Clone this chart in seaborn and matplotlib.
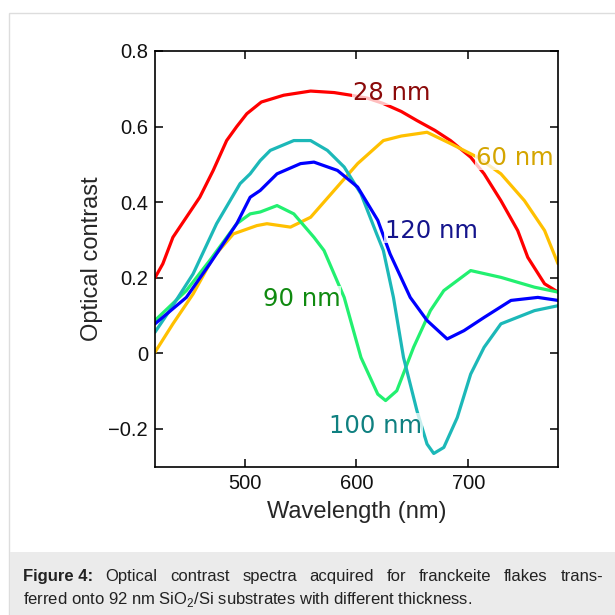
import numpy as np
import pandas as pd
import matplotlib
matplotlib.use("Agg")
import matplotlib.pyplot as plt
import seaborn as sns
from matplotlib.patches import Rectangle

# spectra (wavelength in nm, optical contrast)
wl_28 = [420, 427, 436, 448, 460, 472, 484, 493, 502, 515, 535, 559, 580, 595, 610, 624,
         640, 654, 670, 684, 702, 714, 729, 744, 753, 768, 780]
oc_28 = [0.200, 0.237, 0.307, 0.360, 0.413, 0.484, 0.563, 0.600, 0.634, 0.665, 0.683, 0.694,
         0.690, 0.683, 0.675, 0.661, 0.640, 0.616, 0.590, 0.563, 0.519, 0.475, 0.404, 0.325,
         0.254, 0.184, 0.162]

wl_60 = [420, 436, 454, 472, 490, 511, 520, 541, 559, 580, 601, 624, 640, 654, 663, 684,
         708, 729, 750, 768, 780]
oc_60 = [0.003, 0.078, 0.157, 0.254, 0.316, 0.338, 0.343, 0.334, 0.360, 0.431, 0.502, 0.563,
         0.575, 0.581, 0.585, 0.555, 0.519, 0.475, 0.404, 0.325, 0.237]

wl_90 = [420, 448, 469, 493, 505, 514, 529, 544, 562, 571, 589, 604, 619, 626, 636, 651,
         666, 678, 702, 729, 759, 780]
oc_90 = [0.087, 0.166, 0.246, 0.343, 0.369, 0.374, 0.391, 0.369, 0.307, 0.272, 0.148, -0.011,
         -0.108, -0.125, -0.099, 0.016, 0.113, 0.166, 0.219, 0.201, 0.175, 0.162]

wl_100 = [420, 433, 454, 475, 496, 505, 514, 523, 544, 559, 574, 589, 604, 618, 624, 633,
          642, 654, 663, 669, 678, 690, 702, 714, 729, 759, 780]
oc_100 = [0.056, 0.113, 0.210, 0.343, 0.449, 0.475, 0.510, 0.537, 0.563, 0.563, 0.537, 0.493,
          0.422, 0.316, 0.272, 0.148, -0.011, -0.152, -0.240, -0.265, -0.249, -0.170, -0.055,
          0.016, 0.078, 0.113, 0.126]

wl_120 = [420, 448, 469, 493, 505, 514, 529, 550, 562, 583, 601, 619, 630, 648, 663, 681,
          696, 714, 738, 762, 780]
oc_120 = [0.078, 0.148, 0.237, 0.343, 0.413, 0.431, 0.475, 0.502, 0.506, 0.484, 0.440, 0.352,
          0.263, 0.148, 0.087, 0.038, 0.060, 0.095, 0.140, 0.148, 0.140]

thickness = ["28 nm", "60 nm", "90 nm", "100 nm", "120 nm"]
line_colors = ["#ff0000", "#ffc000", "#22f070", "#1cb8b8", "#0000ff"]
text_colors = ["#8b0a0a", "#d4a500", "#108a10", "#0f8080", "#14148c"]
label_x = [631, 741, 551, 617, 667]
label_y = [0.690, 0.518, 0.145, -0.192, 0.325]

series = [(wl_28, oc_28), (wl_60, oc_60), (wl_90, oc_90), (wl_100, oc_100), (wl_120, oc_120)]
df = pd.concat([pd.DataFrame({"wavelength": w, "contrast": c, "flake": t})
                for (w, c), t in zip(series, thickness)], ignore_index=True)

sns.set_style("ticks")
plt.rcParams["font.family"] = ["Liberation Sans", "DejaVu Sans"]
plt.rcParams["mathtext.fontset"] = "custom"
plt.rcParams["mathtext.rm"] = "Liberation Sans"

fig = plt.figure(figsize=(6.15, 6.15), dpi=100)
fig.patches.append(Rectangle((9 / 615, -0.01), 1.0, 1 - 13 / 615 + 0.01, transform=fig.transFigure,
                             facecolor="white", edgecolor="#dddddd", lw=1.0, zorder=0))
fig.patches.append(Rectangle((9 / 615 + 0.001, 0), 1.0, 63 / 615, transform=fig.transFigure,
                             facecolor="#ebebeb", edgecolor="none", zorder=1))

ax = fig.add_axes([155 / 615, 1 - 466.7 / 615, 403 / 615, 415.7 / 615])
ax.set_zorder(3)
sns.lineplot(data=df, x="wavelength", y="contrast", hue="flake", hue_order=thickness,
             palette=line_colors, estimator=None, sort=True, lw=2.3, legend=False, ax=ax)

for t, c, x, y in zip(thickness, text_colors, label_x, label_y):
    ax.text(x, y, t, color=c, fontsize=17.5, family="DejaVu Sans", ha="center", va="center",
            bbox=dict(facecolor="white", alpha=0.75, edgecolor="none", pad=0.5))

ax.set_xlim(420, 780)
ax.set_ylim(-0.3, 0.8)
ax.set_xticks([500, 600, 700])
ax.set_yticks([-0.2, 0, 0.2, 0.4, 0.6, 0.8])
ax.set_yticklabels(["\u22120.2", "0", "0.2", "0.4", "0.6", "0.8"])
ax.tick_params(direction="in", length=6, width=1.1, top=True, right=True,
               labelsize=14.5, pad=5, color="black", labelcolor="#111111")
for s in ax.spines.values():
    s.set_linewidth(1.2)
    s.set_color("black")
ax.set_xlabel("Wavelength (nm)", fontsize=17, labelpad=6)
ax.set_ylabel("Optical contrast", fontsize=17, labelpad=4)

# caption: first line justified between the two margins
cap_size = 12.0
renderer = fig.canvas.get_renderer()
words = ["Figure 4:", "Optical", "contrast", "spectra", "acquired", "for", "franckeite",
         "flakes", "trans-"]
x0, x1 = 23, 603
y1 = 1 - 581 / 615
texts = []
for i, w in enumerate(words):
    texts.append(fig.text(0, y1, w, fontsize=cap_size, color="#222222", va="baseline",
                          fontweight="bold" if i == 0 else "normal"))
widths = [t.get_window_extent(renderer).width for t in texts]
gap = (x1 - x0 - sum(widths)) / (len(words) - 1)
xpos = x0
for t, wdt in zip(texts, widths):
    t.set_x(xpos / 615)
    xpos += wdt + gap
fig.text(x0 / 615, 1 - 604 / 615,
         r"ferred onto 92 nm SiO$_2$/Si substrates with different thickness.",
         fontsize=cap_size, color="#222222", va="baseline")

fig.savefig("out.png", dpi=100, facecolor="white")
